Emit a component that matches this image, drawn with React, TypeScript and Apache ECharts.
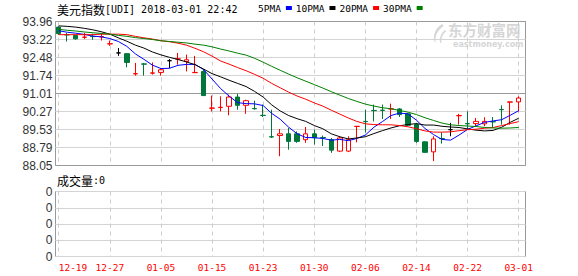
import React, { useEffect, useRef } from 'react';
import * as echarts from 'echarts';

const titleName = '美元指数';
const titleInfo = '[UDI] 2018-03-01 22:42';
const volumeTitle = '成交量';
const volumeValueText = ':0';
const watermarkCn = '东方财富网';
const watermarkEn = 'eastmoney.com';

const dates = [
  '12-19', '12-20', '12-21', '12-22', '12-25', '12-26', '12-27', '12-28', '12-29', '01-02',
  '01-03', '01-04', '01-05', '01-08', '01-09', '01-10', '01-11', '01-12', '01-15', '01-16',
  '01-17', '01-18', '01-19', '01-22', '01-23', '01-24', '01-25', '01-26', '01-27', '01-29',
  '01-30', '01-31', '02-01', '02-02', '02-03', '02-05', '02-06', '02-07', '02-08', '02-09',
  '02-12', '02-13', '02-14', '02-15', '02-16', '02-19', '02-20', '02-21', '02-22', '02-23',
  '02-24', '02-26', '02-27', '02-28', '03-01',
];

// [open, close, low, high]
const ohlc = [
  [93.73, 93.46, 93.41, 93.76],
  [93.42, 93.41, 93.14, 93.49],
  [93.39, 93.25, 93.21, 93.41],
  [93.31, 93.32, 93.24, 93.49],
  [93.35, 93.34, 93.21, 93.46],
  [93.33, 93.34, 93.18, 93.49],
  [93.04, 93.05, 92.96, 93.18],
  [92.67, 92.67, 92.55, 92.87],
  [92.64, 92.28, 92.08, 92.66],
  [91.81, 91.82, 91.74, 92.26],
  [92.22, 92.21, 91.74, 92.26],
  [91.84, 91.85, 91.78, 92.28],
  [91.87, 91.98, 91.74, 92.05],
  [92.35, 92.35, 92.05, 92.42],
  [92.42, 92.43, 92.19, 92.67],
  [92.32, 92.39, 91.91, 92.60],
  [91.86, 91.87, 91.85, 92.55],
  [91.91, 90.92, 90.90, 92.01],
  [90.40, 90.41, 90.27, 90.92],
  [90.43, 90.44, 90.27, 90.89],
  [90.48, 90.86, 90.11, 90.96],
  [90.86, 90.52, 90.34, 90.99],
  [90.52, 90.71, 90.17, 90.75],
  [90.39, 90.38, 90.34, 90.71],
  [90.11, 90.10, 90.04, 90.55],
  [89.23, 89.22, 89.18, 90.34],
  [89.28, 89.35, 88.43, 89.55],
  [89.35, 89.04, 88.70, 89.59],
  [89.35, 89.04, 88.98, 89.45],
  [89.11, 89.35, 88.98, 89.63],
  [89.35, 89.19, 88.91, 89.52],
  [89.20, 89.19, 88.85, 89.28],
  [89.11, 88.68, 88.57, 89.18],
  [88.64, 89.18, 88.60, 89.25],
  [88.64, 89.11, 88.60, 89.25],
  [89.65, 89.66, 89.00, 89.66],
  [89.86, 89.85, 89.40, 90.34],
  [90.31, 90.30, 89.86, 90.55],
  [90.32, 90.31, 89.96, 90.55],
  [90.37, 90.38, 89.96, 90.59],
  [90.37, 90.14, 90.04, 90.41],
  [90.17, 89.70, 89.66, 90.21],
  [89.73, 89.04, 88.98, 89.80],
  [89.02, 88.59, 88.57, 89.04],
  [88.61, 89.14, 88.23, 89.25],
  [89.16, 89.15, 88.95, 89.41],
  [89.52, 89.52, 89.25, 89.80],
  [90.09, 90.10, 89.73, 90.17],
  [89.77, 89.76, 89.52, 90.27],
  [89.77, 89.86, 89.66, 90.00],
  [89.76, 89.86, 89.66, 90.03],
  [89.85, 89.84, 89.59, 90.04],
  [90.35, 90.34, 89.73, 90.52],
  [90.65, 90.66, 89.73, 90.66],
  [90.66, 90.82, 90.27, 90.89],
];

const ma5 = [
  93.58, 93.52, 93.48, 93.43, 93.36, 93.33, 93.26, 93.14, 92.94, 92.63,
  92.41, 92.17, 92.03, 92.04, 92.16, 92.20, 92.20, 91.99, 91.60, 91.21,
  90.90, 90.63, 90.59, 90.58, 90.51, 90.19, 89.95, 89.62, 89.35, 89.20,
  89.19, 89.16, 89.09, 89.12, 89.07, 89.16, 89.30, 89.62, 89.85, 90.10,
  90.20, 90.17, 89.91, 89.57, 89.32, 89.12, 89.09, 89.30, 89.53, 89.68,
  89.82, 89.88, 89.93, 90.11, 90.30,
];
const ma10 = [
  93.78, 93.76, 93.73, 93.68, 93.62, 93.54, 93.44, 93.29, 93.15, 92.99,
  92.87, 92.71, 92.59, 92.49, 92.40, 92.30, 92.19, 92.01, 91.82, 91.69,
  91.55, 91.42, 91.29, 91.09, 90.86, 90.54, 90.29, 90.10, 89.97, 89.86,
  89.69, 89.56, 89.35, 89.23, 89.14, 89.18, 89.23, 89.36, 89.48, 89.59,
  89.68, 89.73, 89.77, 89.71, 89.71, 89.66, 89.63, 89.61, 89.55, 89.50,
  89.47, 89.49, 89.62, 89.82, 89.99,
];
const ma20 = [
  93.42, 93.42, 93.42, 93.42, 93.42, 93.44, 93.44, 93.44, 93.42, 93.35,
  93.29, 93.24, 93.17, 93.13, 93.07, 92.99, 92.86, 92.72, 92.54, 92.34,
  92.21, 92.07, 91.94, 91.79, 91.63, 91.42, 91.24, 91.06, 90.90, 90.77,
  90.62, 90.49, 90.32, 90.16, 90.00, 89.86, 89.76, 89.73, 89.72, 89.72,
  89.69, 89.64, 89.56, 89.47, 89.42, 89.42, 89.43, 89.48, 89.52, 89.54,
  89.58, 89.61, 89.69, 89.77, 89.85,
];
const ma30 = [
  93.64, 93.60, 93.57, 93.53, 93.50, 93.47, 93.44, 93.39, 93.35, 93.30,
  93.26, 93.22, 93.17, 93.14, 93.11, 93.08, 93.03, 92.99, 92.92, 92.83,
  92.75, 92.66, 92.58, 92.45, 92.29, 92.12, 91.96, 91.80, 91.65, 91.51,
  91.37, 91.23, 91.08, 90.94, 90.80, 90.68, 90.57, 90.49, 90.42, 90.38,
  90.31, 90.24, 90.14, 90.01, 89.90, 89.79, 89.72, 89.69, 89.67, 89.65,
  89.61, 89.59, 89.58, 89.59, 89.61,
];

const volumes = [
  0, 0, 0, 0, 0, 0, 0, 0, 0, 0, 0, 0, 0, 0, 0, 0, 0, 0, 0, 0,
  0, 0, 0, 0, 0, 0, 0, 0, 0, 0, 0, 0, 0, 0, 0, 0, 0, 0, 0, 0,
  0, 0, 0, 0, 0, 0, 0, 0, 0, 0, 0, 0, 0, 0, 0,
];

const priceTickLabels = ['88.05', '88.79', '89.53', '90.27', '91.01', '91.74', '92.48', '93.22', '93.96'];
const priceMin = 88.05;
const priceMax = 93.96;
const volumeTickLabels = ['0', '0', '0', '0', '0'];

const maNames = ['5PMA', '10PMA', '20PMA', '30PMA'];
const maSeries = [ma5, ma10, ma20, ma30];
const maColors = ['#0000ff', '#000000', '#ff0000', '#008000'];

const LOGO_D =
  'M15 0 C8 3 3 9 4 17 L6 20 C5 12 9 6 17 2 Z M19 6 C14 9 11 14 12 20 L13.5 20 C13.5 14 16 10 20 8 Z';
echarts.graphic.registerShape('logo', echarts.graphic.extendPath(LOGO_D, {}) as any);

const MONO = 'DejaVu Sans Mono';
const CJK = 'Noto Sans CJK SC';

export default function App() {
  const ref = useRef<HTMLDivElement>(null);

  useEffect(() => {
    if (!ref.current) return;
    const chart = echarts.init(ref.current, undefined, { renderer: 'svg' });
    const light = '#d4d4d4';
    const mid = '#999999';
    const dashed = { color: '#cccccc', type: [4, 4] as any, width: 1 };

    const option: any = {
      animation: false,
      backgroundColor: '#ffffff',
      legend: {
        data: maNames,
        left: 258,
        top: 3,
        padding: 0,
        align: 'right',
        icon: 'rect',
        itemWidth: 6,
        itemHeight: 4,
        itemGap: 4,
        selectedMode: false,
        itemStyle: { borderWidth: 0 },
        textStyle: { fontFamily: MONO, fontSize: 9.5, color: '#000' },
      },
      grid: [
        { left: 55.5, top: 21.5, width: 470, height: 144, show: true, borderColor: mid, borderWidth: 1, backgroundColor: 'transparent' },
        { left: 58.7, top: 21.5, width: 460, height: 144, show: false },
        { left: 55.5, top: 191.5, width: 470, height: 65, show: true, borderColor: mid, borderWidth: 1, backgroundColor: 'transparent' },
        { left: 58.7, top: 191.5, width: 460, height: 65, show: false },
      ],
      xAxis: [
        { type: 'value', gridIndex: 0, min: 0, max: 1, show: false },
        {
          type: 'category', gridIndex: 1, data: dates, boundaryGap: false,
          axisLine: { show: false }, axisTick: { show: false }, axisLabel: { show: false },
          splitLine: { show: true, interval: 5, lineStyle: dashed },
        },
        { type: 'value', gridIndex: 2, min: 0, max: 1, show: false },
        {
          type: 'category', gridIndex: 3, data: dates, boundaryGap: false,
          axisLine: { show: false }, axisTick: { show: false },
          axisLabel: {
            show: true, interval: 5, color: '#ff0000', fontFamily: MONO, fontSize: 9.5,
            margin: 6, alignMinLabel: 'left',
          },
          splitLine: { show: true, interval: 5, lineStyle: dashed },
        },
      ],
      yAxis: [
        {
          type: 'value', gridIndex: 0, min: 0, max: 8, interval: 1,
          axisLine: { show: false }, axisTick: { show: false },
          axisLabel: {
            margin: 3, fontFamily: 'Liberation Sans', fontSize: 12, color: '#333',
            formatter: (v: number) => priceTickLabels[Math.round(v)],
          },
          splitLine: { show: true, lineStyle: { color: [mid, light, light, light, mid, light, light, light], width: 1 } },
        },
        { type: 'value', gridIndex: 1, min: priceMin, max: priceMax, show: false, scale: true },
        {
          type: 'value', gridIndex: 2, min: 0, max: 4, interval: 1,
          axisLine: { show: false }, axisTick: { show: false },
          axisLabel: {
            margin: 3, fontFamily: 'Liberation Sans', fontSize: 12, color: '#333',
            formatter: (v: number) => volumeTickLabels[Math.round(v)],
          },
          splitLine: { show: true, lineStyle: { color: light, width: 1 } },
        },
        { type: 'value', gridIndex: 3, min: 0, max: 4, show: false },
      ],
      series: [
        {
          type: 'candlestick', name: 'UDI', xAxisIndex: 1, yAxisIndex: 1,
          data: ohlc, barWidth: 5, clip: false,
          itemStyle: {
            color: '#ffffff', color0: '#00773a',
            borderColor: '#ff0000', borderColor0: '#00773a', borderColorDoji: '#000000',
            borderWidth: 1,
          },
          z: 3,
        },
        ...maNames.map((name, k) => ({
          type: 'line', name, xAxisIndex: 1, yAxisIndex: 1, data: maSeries[k],
          showSymbol: false, symbol: 'none', color: maColors[k],
          itemStyle: { color: maColors[k] },
          lineStyle: { color: maColors[k], width: 1 }, z: 4,
        })),
        {
          type: 'bar', name: 'volume', xAxisIndex: 3, yAxisIndex: 3, data: volumes,
          itemStyle: { color: '#ff0000' },
        },
      ],
      graphic: [
        {
          type: 'group', z: 1,
          children: [
            { type: 'logo', x: 431, y: 24, scaleX: 0.75, scaleY: 0.95, style: { fill: '#d6d6d6' } },
            {
              type: 'text', x: 448, y: 22,
              style: {
                text: watermarkCn, fontFamily: CJK, fontWeight: 'bold', fontSize: 14.5,
                lineHeight: 14, fill: '#d6d6d6',
              },
            },
            {
              type: 'text', x: 453, y: 40,
              style: {
                text: watermarkEn, fontFamily: 'DejaVu Sans', fontWeight: 'bold', fontSize: 8,
                lineHeight: 8, fill: '#d6d6d6',
              },
            },
          ],
        },
        {
          type: 'text', x: 57, y: 9, z: 10,
          style: {
            text: `{c|${titleName}}{a|${titleInfo}}`,
            verticalAlign: 'middle',
            rich: {
              c: { fontFamily: CJK, fontSize: 12, fill: '#000' },
              a: { fontFamily: MONO, fontSize: 10, fill: '#000' },
            },
          },
        },
        {
          type: 'text', x: 57, y: 180, z: 10,
          style: {
            text: `{c|${volumeTitle}}{a|${volumeValueText}}`,
            verticalAlign: 'middle',
            rich: {
              c: { fontFamily: CJK, fontSize: 12, fill: '#000' },
              a: { fontFamily: MONO, fontSize: 10, fill: '#000' },
            },
          },
        },
      ],
    };
    chart.setOption(option);
    return () => chart.dispose();
  }, []);

  return (
    <div
      ref={ref}
      style={{ position: 'absolute', left: 0, top: 0, width: 578, height: 276, background: '#fff' }}
    />
  );
}
